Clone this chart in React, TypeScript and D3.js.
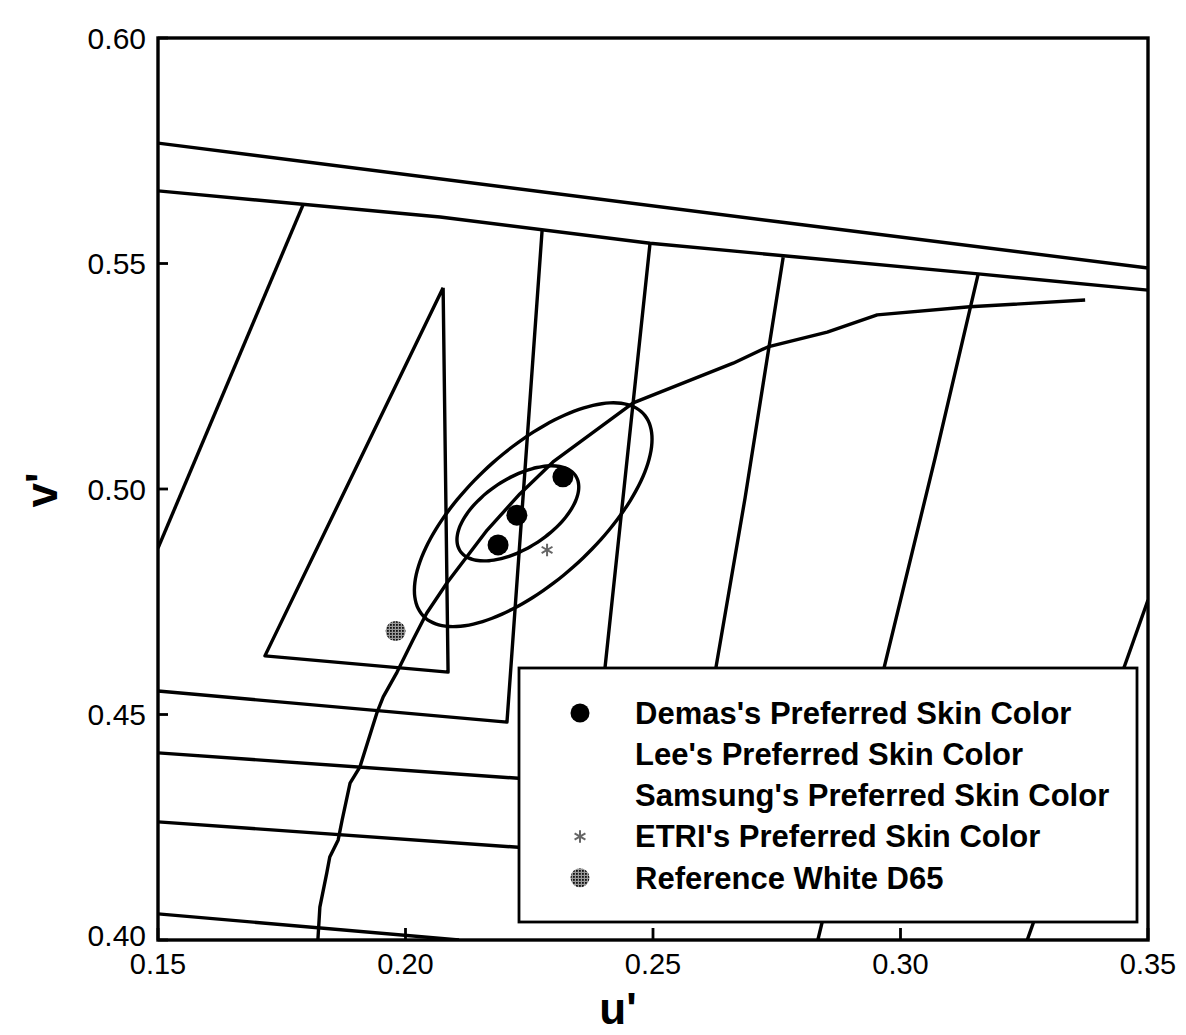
import * as d3 from 'd3';

// axis ticks
const uTicks = [0.15, 0.2, 0.25, 0.3, 0.35];
const vTicks = [0.4, 0.45, 0.5, 0.55, 0.6];

// boundary polylines in (u', v')
const upperLine = [[0.15, 0.5767], [0.2757, 0.5592], [0.35, 0.549]];
const lowerLine = [[0.15, 0.5661], [0.207, 0.5603], [0.2494, 0.5545], [0.3157, 0.5477], [0.35, 0.5441]];
const leftSlant = [[0.15, 0.4869], [0.1793, 0.563]];
const triangle = [[0.2076, 0.5446], [0.2086, 0.4594], [0.1716, 0.463], [0.2076, 0.5446]];
const hookLine = [[0.2276, 0.5574], [0.2205, 0.4483], [0.15, 0.4552]];
const lowLineB = [[0.15, 0.4415], [0.2235, 0.4358]];
const lowLineC = [[0.15, 0.4262], [0.2235, 0.4205]];
const lowLineD = [[0.15, 0.4058], [0.2108, 0.4]];
const slant5 = [[0.2494, 0.5545], [0.2403, 0.4603], [0.2396, 0.455]];
const slant6 = [[0.2763, 0.5514], [0.2686, 0.498], [0.2627, 0.4603], [0.2619, 0.4554]];
const slant7 = [[0.3157, 0.5477], [0.307, 0.5069], [0.2833, 0.4]];
const slant8 = [[0.35, 0.4754], [0.3256, 0.4]];

// blackbody-like locus
const locus = [
  [0.1823, 0.4], [0.1827, 0.4073], [0.1841, 0.4149], [0.1847, 0.4184], [0.1864, 0.4222],
  [0.1872, 0.4266], [0.1888, 0.4348], [0.1908, 0.4384], [0.1942, 0.4503], [0.1955, 0.4539],
  [0.1983, 0.4594], [0.2015, 0.4665], [0.2043, 0.4725], [0.2084, 0.4792], [0.2165, 0.4909],
  [0.2231, 0.4989], [0.2298, 0.506], [0.246, 0.5191], [0.2662, 0.5279], [0.2732, 0.5315],
  [0.2852, 0.5348], [0.2953, 0.5386], [0.314, 0.5404], [0.3373, 0.5419],
];

// preferred-colour ellipses: centre, semi axes (u'v' units), tilt in degrees
const ellipseCentres = [[0.2258, 0.4943], [0.2227, 0.4946]];
const ellipseAxes = [[0.0316, 0.0139], [0.01435, 0.00752]];
const ellipseTilt = [46.4, 37.2];

const demasPoints = [[0.2187, 0.4876], [0.2225, 0.4942], [0.2318, 0.5027]];
const etriPoints = [[0.2286, 0.4865]];
const d65Points = [[0.198, 0.4685]];

const legendLabels = [
  "Demas's Preferred Skin Color",
  "Lee's Preferred Skin Color",
  "Samsung's Preferred Skin Color",
  "ETRI's Preferred Skin Color",
  'Reference White D65',
];

const W = 1186;
const H = 1035;
const left = 158;
const right = 1148;
const top = 38;
const bottom = 940;

function ellipsePoints(c: number[], ax: number[], tilt: number) {
  const phi = (tilt * Math.PI) / 180;
  return d3.range(0, 72).map((i) => {
    const t = (i / 72) * Math.PI * 2;
    const du = ax[0] * Math.cos(t) * Math.cos(phi) - ax[1] * Math.sin(t) * Math.sin(phi);
    const dv = ax[0] * Math.cos(t) * Math.sin(phi) + ax[1] * Math.sin(t) * Math.cos(phi);
    return [c[0] + du, c[1] + dv];
  });
}

export default function App() {
  const x = d3.scaleLinear().domain([0.15, 0.35]).range([left, right]);
  const y = d3.scaleLinear().domain([0.4, 0.6]).range([bottom, top]);
  const line = d3.line<number[]>().x((d) => x(d[0])).y((d) => y(d[1]));
  const closed = d3.line<number[]>().x((d) => x(d[0])).y((d) => y(d[1])).curve(d3.curveCardinalClosed);

  const polylines = [upperLine, lowerLine, leftSlant, triangle, hookLine, lowLineB, lowLineC, lowLineD, slant5, slant6, slant7, slant8, locus];
  const font = '"Liberation Sans", Arial, sans-serif';
  const star = d3.symbol(d3.symbolAsterisk, 110)() ?? '';

  const lx = 519;
  const ly = 668;
  const lw = 618;
  const lh = 254;
  const rowY = (i: number) => 713 + i * 41.2;

  return (
    <svg width={W} height={H} style={{ position: 'absolute', left: 0, top: 0, background: '#fff' }} fontFamily={font}>
      <defs>
        <clipPath id="plot">
          <rect x={left} y={top} width={right - left} height={bottom - top} />
        </clipPath>
        <pattern id="stipple" width="3" height="3" patternUnits="userSpaceOnUse">
          <rect width="3" height="3" fill="#999" />
          <rect width="1.8" height="1.8" fill="#111" />
        </pattern>
      </defs>
      <g clipPath="url(#plot)" fill="none" stroke="#000" strokeWidth={3.4} strokeLinejoin="round">
        {polylines.map((p, i) => (
          <path key={i} d={line(p) ?? ''} />
        ))}
        {ellipseCentres.map((c, i) => (
          <path key={`e${i}`} d={closed(ellipsePoints(c, ellipseAxes[i], ellipseTilt[i])) ?? ''} />
        ))}
      </g>
      {demasPoints.map((p, i) => (
        <circle key={`d${i}`} cx={x(p[0])} cy={y(p[1])} r={10.5} fill="#000" />
      ))}
      {etriPoints.map((p, i) => (
        <path key={`t${i}`} d={star} transform={`translate(${x(p[0])},${y(p[1])})`} stroke="#666" strokeWidth={2} fill="none" />
      ))}
      {d65Points.map((p, i) => (
        <circle key={`w${i}`} cx={x(p[0])} cy={y(p[1])} r={10} fill="url(#stipple)" />
      ))}

      {/* frame and ticks */}
      <rect x={left} y={top} width={right - left} height={bottom - top} fill="none" stroke="#000" strokeWidth={3.4} />
      {uTicks.map((t) => (
        <g key={`u${t}`}>
          <line x1={x(t)} x2={x(t)} y1={bottom} y2={bottom - 12} stroke="#000" strokeWidth={2.8} />
          <text x={x(t)} y={974} textAnchor="middle" fontSize={29}>
            {t.toFixed(2)}
          </text>
        </g>
      ))}
      {vTicks.map((t) => (
        <g key={`v${t}`}>
          <line x1={left} x2={left + 10} y1={y(t)} y2={y(t)} stroke="#000" strokeWidth={2.8} />
          <text x={146} y={y(t) + (t === 0.4 ? -5 : 0)} dy="0.35em" textAnchor="end" fontSize={30}>
            {t.toFixed(2)}
          </text>
        </g>
      ))}
      <text x={618} y={1024} textAnchor="middle" fontSize={44} fontWeight="bold">
        u'
      </text>
      <text transform="translate(57,490) rotate(-90)" textAnchor="middle" fontSize={44} fontWeight="bold">
        v'
      </text>

      {/* legend */}
      <rect x={lx} y={ly} width={lw} height={lh} fill="#fff" stroke="#000" strokeWidth={2.8} />
      <circle cx={580} cy={rowY(0)} r={9.5} fill="#000" />
      <path d={star} transform={`translate(580,${rowY(3)})`} stroke="#666" strokeWidth={2} fill="none" />
      <circle cx={580} cy={rowY(4)} r={9.5} fill="url(#stipple)" />
      {legendLabels.map((s, i) => (
        <text key={s} x={635} y={rowY(i)} dy="0.35em" fontSize={31} fontWeight="bold">
          {s}
        </text>
      ))}
    </svg>
  );
}
